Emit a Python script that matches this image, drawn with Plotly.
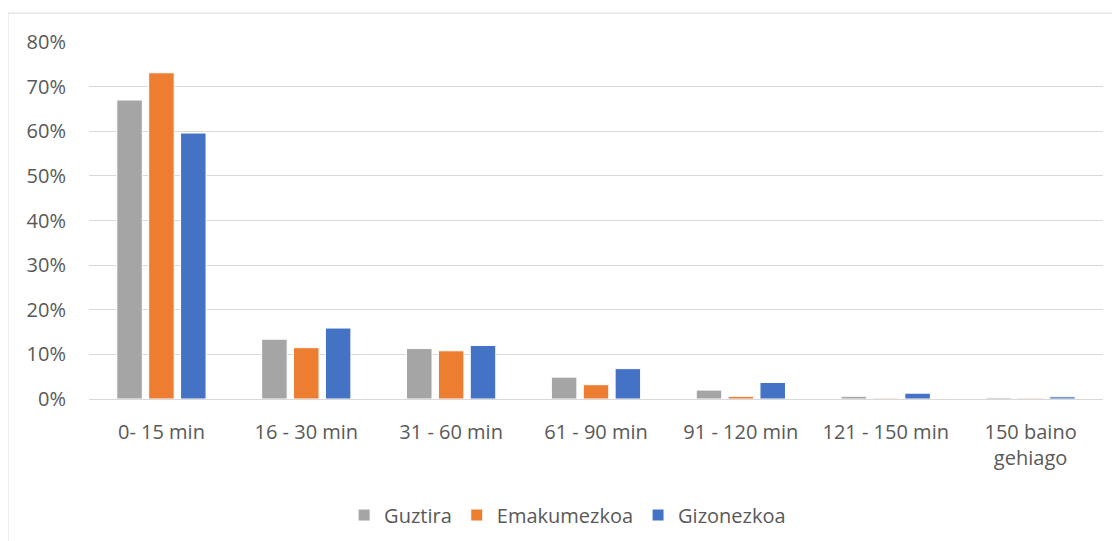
import plotly.graph_objects as go

categories = ["0- 15 min", "16 - 30 min", "31 - 60 min", "61 - 90 min",
              "91 - 120 min", "121 - 150 min", "150 baino<br>gehiago"]
guztira = [0.670, 0.134, 0.113, 0.049, 0.020, 0.006, 0.003]
emakumezkoa = [0.731, 0.115, 0.108, 0.032, 0.006, 0.002, 0.002]
gizonezkoa = [0.596, 0.159, 0.120, 0.068, 0.037, 0.013, 0.005]

series = [("Guztira", guztira, "#A5A5A5"),
          ("Emakumezkoa", emakumezkoa, "#ED7D31"),
          ("Gizonezkoa", gizonezkoa, "#4472C4")]

fig = go.Figure()
for name, vals, color in series:
    fig.add_trace(go.Bar(x=categories, y=vals, name=name,
                         marker=dict(color=color, line=dict(color="white", width=1))))

font = dict(family="Open Sans, Liberation Sans, sans-serif", size=20, color="#595959")
fig.update_layout(
    width=1120, height=541,
    paper_bgcolor="white", plot_bgcolor="white",
    barmode="group", bargap=0.34, bargroupgap=0.2,
    # page body adds an 8px offset, so margins are shifted to compensate
    margin=dict(l=81, r=25, t=34, b=150, autoexpand=False),
    font=font,
    showlegend=True,
    legend=dict(orientation="h", x=0.472, xanchor="center", y=-0.325, yanchor="middle",
                font=font, itemwidth=30, traceorder="normal"),
    xaxis=dict(showgrid=False, showline=True, linecolor="#D9D9D9", linewidth=1,
               ticks="", tickfont=font, ticklabelstandoff=15),
    yaxis=dict(range=[0, 0.8], dtick=0.1, tickformat=".0%", showgrid=True,
               gridcolor="#D9D9D9", gridwidth=1, zeroline=False, ticks="",
               tickfont=font, ticklabelstandoff=22),
    shapes=[dict(type="rect", xref="paper", yref="paper", x0=-0.0799, x1=1.1,
                 y0=-0.6, y1=1.081, line=dict(color="#D9D9D9", width=1))],
)
fig.write_html("out.html")
